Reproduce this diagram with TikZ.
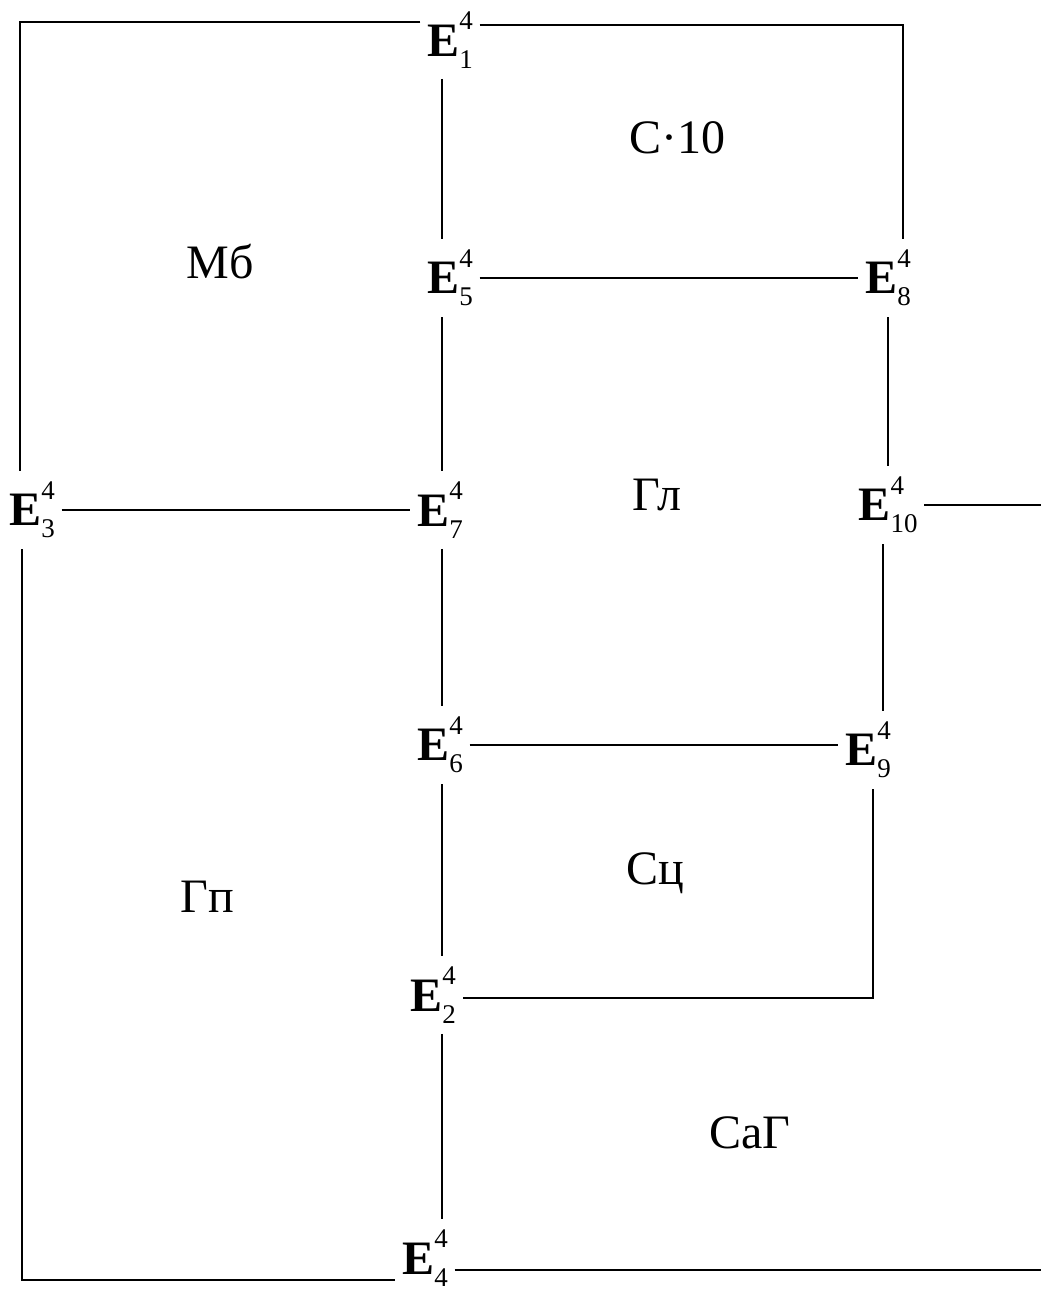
\documentclass[tikz,border=0pt]{standalone}
\usepackage{fontspec}
\setmainfont{Liberation Serif}
\newcommand{\scr}{\fontsize{27}{27}\selectfont}
\newcommand{\ev}[1]{\textbf{E}\makebox[0pt][l]{\raisebox{0.55em}{\scr 4}}\raisebox{-0.25em}{\scr #1}}
\begin{document}
\begin{tikzpicture}[x=1pt,y=-1pt, line width=1.8pt,
  vtx/.style={font=\fontsize{48}{52}\selectfont, inner xsep=6pt, inner ysep=10pt},
  reg/.style={font=\fontsize{48}{54}\selectfont, inner sep=0pt}]
\useasboundingbox (0,0) rectangle (1041,1290);
% vertices
\node[vtx] (E1) at (450,40) {\ev{1}};
\node[vtx] (E5) at (450,278) {\ev{5}};
\node[vtx] (E8) at (888,278) {\ev{8}};
\node[vtx] (E3) at (32,510) {\ev{3}};
\node[vtx] (E7) at (440,510) {\ev{7}};
\node[vtx] (E10) at (888,505) {\ev{10}};
\node[vtx] (E6) at (440,745) {\ev{6}};
\node[vtx] (E9) at (868,750) {\ev{9}};
\node[vtx] (E2) at (433,995) {\ev{2}};
\node[vtx] (E4) at (425,1258) {\ev{4}};
% region labels
\node[reg] (rC10) at (677,138) {С·10};
\node[reg] (rMb) at (220,262) {Мб};
\node[reg] (rGl) at (657,495) {Гл};
\node[reg] (rSc) at (655,873) {Сц};
\node[reg] (rGp) at (207,897) {Гп};
\node[reg] (rSaG) at (750,1133) {СаГ};
% helper coordinates
\coordinate (tl) at (20,22);
\coordinate (tr) at (903,25);
\coordinate (bl) at (22,1280);
\coordinate (cM) at (442,0);
\coordinate (cR) at (883,0);
\coordinate (br) at (873,998);
\coordinate (r1) at (1041,505);
\coordinate (r2) at (1041,1270);
% connectors
\draw (E1.west |- tl) -- (tl) -- (E3.north -| tl);
\draw (E1.east |- tr) -- (tr) -- (E8.north -| tr);
\draw (E1.south -| cM) -- (E5.north -| cM);
\draw (E5) -- (E8);
\draw (E5.south -| cM) -- (E7.north -| cM);
\draw (E3) -- (E7);
\draw (E3.south -| bl) -- (bl) -- (E4.west |- bl);
\draw (E7.south -| cM) -- (E6.north -| cM);
\draw (E6.south -| cM) -- (E2.north -| cM);
\draw (E2.south -| cM) -- (E4.north -| cM);
\draw (E6.east) -- (E9.west |- E6.east);
\draw (E8) -- (E10);
\draw (E10.south -| cR) -- (E9.north -| cR);
\draw (E9.south -| br) -- (br) -- (E2.east |- br);
\draw (E10.east |- r1) -- (r1);
\draw (E4.east |- r2) -- (r2);
\end{tikzpicture}
\end{document}
